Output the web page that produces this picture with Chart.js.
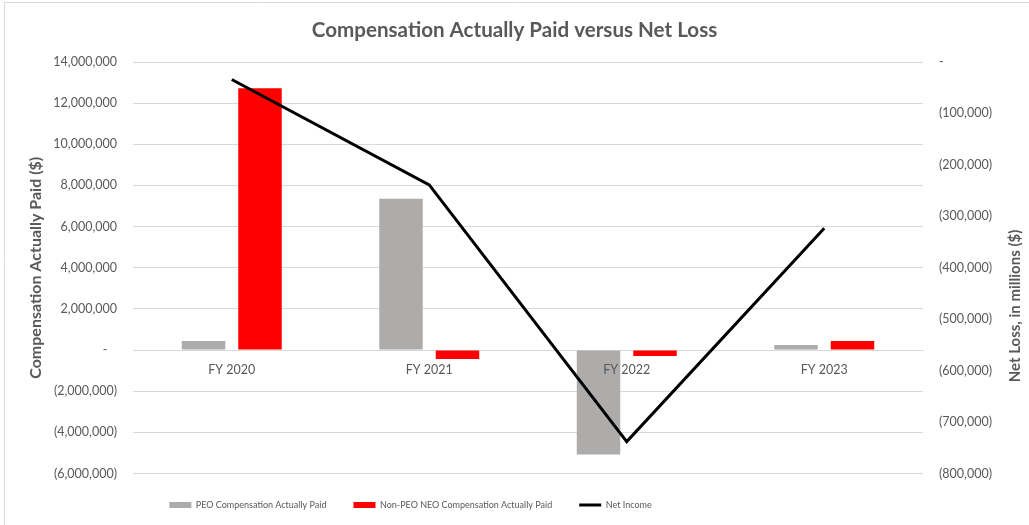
<!DOCTYPE html>
<html><head><meta charset="utf-8">
<script src="https://cdn.jsdelivr.net/npm/chart.js@4.4.0/dist/chart.umd.min.js"></script>
<style>html,body{margin:0;padding:0;background:#fff;} canvas{display:block;}</style>
</head><body>
<canvas id="c" width="1029" height="525"></canvas>
<script>
const categories = ['FY 2020', 'FY 2021', 'FY 2022', 'FY 2023'];
const peoCompActuallyPaid = [440000, 7350000, -5080000, 240000];
const nonPeoNeoCompActuallyPaid = [12730000, -440000, -290000, 440000];
const netIncome = [-34000, -239000, -738000, -323000];
const seriesNames = ['PEO Compensation Actually Paid', 'Non-PEO NEO Compensation Actually Paid', 'Net Income'];
const leftAxisTicks = [-6000000, -4000000, -2000000, 0, 2000000, 4000000, 6000000, 8000000, 10000000, 12000000, 14000000];
const rightAxisTicks = [-800000, -700000, -600000, -500000, -400000, -300000, -200000, -100000, 0];
const chartTitle = 'Compensation Actually Paid versus Net Loss';
const leftAxisTitle = 'Compensation Actually Paid ($)';
const rightAxisTitle = 'Net Loss, in millions ($)';

const FONT = 'Lato';
const TEXT = '#595959';
const GRID = '#d9d9d9';

function fmt(v, zero) {
  if (v === 0) return zero;
  const s = Math.abs(v).toLocaleString('en-US');
  return v < 0 ? '(' + s + ')' : s;
}

const framePlugin = {
  id: 'frame',
  beforeDraw(chart) {
    const ctx = chart.ctx;
    ctx.save();
    ctx.fillStyle = '#fff';
    ctx.fillRect(0, 0, chart.width, chart.height);
    ctx.strokeStyle = GRID;
    ctx.lineWidth = 1;
    ctx.beginPath();
    ctx.moveTo(4.5, chart.height);
    ctx.lineTo(4.5, 2.5);
    ctx.lineTo(chart.width, 2.5);
    ctx.stroke();
    ctx.restore();
    if (chart.legend) { chart.legend.left = 0; chart.legend.right = 821; }
  },
  afterDraw(chart) {
    const ctx = chart.ctx;
    ctx.save();
    ctx.translate(1015, 306);
    ctx.rotate(-Math.PI / 2);
    ctx.font = 'bold 15px ' + FONT;
    ctx.fillStyle = TEXT;
    ctx.textAlign = 'center';
    ctx.textBaseline = 'middle';
    ctx.fillText(rightAxisTitle, 0, 0);
    ctx.restore();
  }
};

new Chart(document.getElementById('c'), {
  type: 'bar',
  data: {
    labels: categories,
    datasets: [
      { type: 'bar', label: seriesNames[0], data: peoCompActuallyPaid, backgroundColor: '#AEABAB', yAxisID: 'y', order: 1, barPercentage: 0.77, categoryPercentage: 0.572 },
      { type: 'bar', label: seriesNames[1], data: nonPeoNeoCompActuallyPaid, backgroundColor: '#FF0000', yAxisID: 'y', order: 1, barPercentage: 0.77, categoryPercentage: 0.572 },
      { type: 'line', label: seriesNames[2], data: netIncome, borderColor: '#000000', backgroundColor: '#000000', borderWidth: 3, pointRadius: 0, fill: false, tension: 0, yAxisID: 'y1', order: 0 }
    ]
  },
  options: {
    responsive: false,
    animation: false,
    layout: { padding: { left: 0, right: 0, top: 0, bottom: 5.5 } },
    plugins: {
      tooltip: { enabled: false },
      title: { display: true, text: chartTitle, color: TEXT, font: { family: FONT, size: 20.6, weight: 'bold' }, padding: { top: 17.6, bottom: 19.7 } },
      legend: {
        position: 'bottom',
        labels: {
          usePointStyle: true, pointStyleWidth: 22, boxHeight: 6, padding: 27,
          color: TEXT, font: { family: FONT, size: 9 },
          generateLabels(chart) {
            const items = Chart.defaults.plugins.legend.labels.generateLabels(chart);
            items.sort((a, b) => a.datasetIndex - b.datasetIndex);
            items.forEach(it => {
              if (it.datasetIndex < 2) { it.pointStyle = 'rect'; it.lineWidth = 0; }
              else { it.pointStyle = 'line'; it.lineWidth = 3; it.strokeStyle = '#000'; }
            });
            return items;
          }
        }
      }
    },
    scales: {
      x: {
        type: 'category', position: { y: 0 },
        grid: { display: false, drawTicks: false },
        border: { display: true, color: GRID, width: 1 },
        ticks: { z: 1, color: TEXT, font: { family: FONT, size: 12.5 }, padding: 12 }
      },
      y: {
        position: 'left', min: leftAxisTicks[0], max: leftAxisTicks[leftAxisTicks.length - 1],
        afterBuildTicks(s) { s.ticks = leftAxisTicks.map(v => ({ value: v })); },
        afterFit(s) { s.width = 133; },
        grid: { color: GRID, drawTicks: false },
        border: { display: false },
        ticks: { color: TEXT, font: { family: FONT, size: 12.5 }, padding: 16, callback: v => fmt(v, '-   ') },
        title: { display: true, text: leftAxisTitle, color: TEXT, font: { family: FONT, size: 16, weight: 'bold' }, padding: { top: 26, bottom: 0 } }
      },
      y1: {
        position: 'right', min: rightAxisTicks[0], max: rightAxisTicks[rightAxisTicks.length - 1],
        afterBuildTicks(s) { s.ticks = rightAxisTicks.map(v => ({ value: v })); },
        afterFit(s) { s.width = 106; },
        grid: { display: false, drawTicks: false },
        border: { display: false },
        ticks: { color: TEXT, font: { family: FONT, size: 12.5 }, padding: 16, callback: v => fmt(v, '-') }
      }
    }
  },
  plugins: [framePlugin]
});
</script>
</body></html>
